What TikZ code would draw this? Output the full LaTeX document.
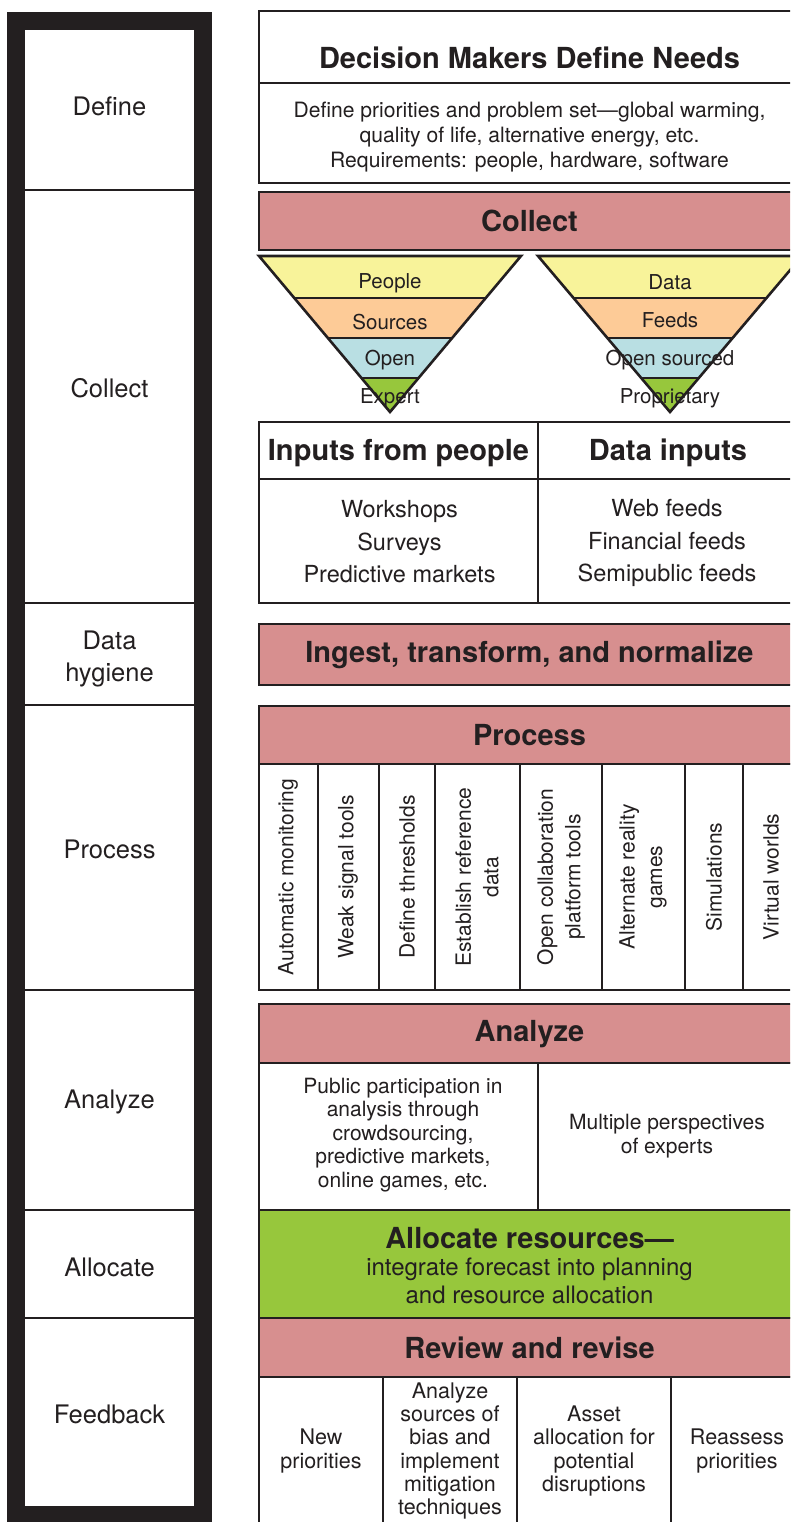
\documentclass[tikz,border=0pt]{standalone}
\usepackage{fontspec}
\setmainfont{TeX Gyre Heros}
\usetikzlibrary{calc}
\definecolor{linec}{RGB}{35,31,32}
\definecolor{pinkc}{RGB}{215,143,143}
\definecolor{greenc}{RGB}{151,199,60}
\definecolor{yellowc}{RGB}{248,243,154}
\definecolor{orangec}{RGB}{253,203,151}
\definecolor{bluec}{RGB}{185,223,227}
\begin{document}
\begin{tikzpicture}[x=1pt,y=-1pt,
  box/.style={draw=linec,line width=2.6pt,inner sep=0pt,outer sep=0pt,minimum width=541pt,text=linec},
  bar/.style={box,fill=pinkc,font=\bfseries\fontsize{29}{34}\selectfont},
  rule/.style={draw=linec,line width=2.6pt},
  thin/.style={draw=linec,line width=2pt},
  side/.style={text=linec,align=center,font=\fontsize{25.5}{32}\selectfont},
  title/.style={text=linec,align=center,font=\bfseries\fontsize{29}{34}\selectfont},
  body/.style={text=linec,align=center,font=\fontsize{23.5}{32.5}\selectfont},
  small/.style={text=linec,align=center,font=\fontsize{21}{23.5}\selectfont},
  funtext/.style={text=linec,font=\fontsize{20.5}{24}\selectfont},
  vert/.style={text=linec,align=center,rotate=90,font=\fontsize{21}{27.5}\selectfont}
]
\useasboundingbox (0,0) rectangle (790,1522);
\clip (0,0) rectangle (790,1522);

% ---------- left column ----------
\node[draw=linec,line width=18pt,minimum width=187pt,minimum height=1494pt,inner sep=0pt,outer sep=0pt] (frame) at (109.5,768) {};
\foreach \yy in {190,603,705,990,1210,1318}{
  \draw[thin] (25,\yy) -- (194,\yy);
}
\node[side] (sdefine) at (109.5,106) {Define};
\node[side] (scollect) at (109.5,388) {Collect};
\node[side] (shyg) at (109.5,659) {Data\\hygiene};
\node[side] (sprocess) at (109.5,849) {Process};
\node[side] (sanalyze) at (109.5,1102) {Analyze};
\node[side] (sallocate) at (109.5,1267) {Allocate};
\node[side] (sfeedback) at (109.5,1414) {Feedback};

% ---------- define ----------
\node[box,fill=white,minimum height=172pt] (defbox) at (529.5,97) {};
\draw[rule] (259,83) -- (800,83);
\node[title] (deftitle) at (529.5,58) {Decision Makers Define Needs};
\node[text=linec,align=center,font=\fontsize{21.1}{25}\selectfont] (defbody) at (529.5,137.5)
  {Define priorities and problem set—global warming,\\quality of life, alternative energy, etc.\\Requirements: people, hardware, software};

% ---------- collect ----------
\node[bar,minimum height=58pt] (collect) at (529.5,221) {Collect};

% funnels
\coordinate (la) at (259,256); \coordinate (lb) at (521,256); \coordinate (lc) at (390,412);
\coordinate (ra) at (538,256); \coordinate (rb) at (802,256); \coordinate (rc) at (670,412);
\foreach \p in {l,r}{
  \fill[yellowc] (\p a) -- (\p b) -- ($(\p b)!0.2692!(\p c)$) -- ($(\p a)!0.2692!(\p c)$) -- cycle;
  \fill[orangec] ($(\p a)!0.2692!(\p c)$) -- ($(\p b)!0.2692!(\p c)$) -- ($(\p b)!0.5256!(\p c)$) -- ($(\p a)!0.5256!(\p c)$) -- cycle;
  \fill[bluec] ($(\p a)!0.5256!(\p c)$) -- ($(\p b)!0.5256!(\p c)$) -- ($(\p b)!0.7821!(\p c)$) -- ($(\p a)!0.7821!(\p c)$) -- cycle;
  \fill[greenc] ($(\p a)!0.7821!(\p c)$) -- ($(\p b)!0.7821!(\p c)$) -- (\p c) -- cycle;
  \draw[rule] ($(\p a)!0.2692!(\p c)$) -- ($(\p b)!0.2692!(\p c)$);
  \draw[rule] ($(\p a)!0.5256!(\p c)$) -- ($(\p b)!0.5256!(\p c)$);
  \draw[rule] ($(\p a)!0.7821!(\p c)$) -- ($(\p b)!0.7821!(\p c)$);
  \draw[rule] (\p a) -- (\p b) -- (\p c) -- cycle;
}
\node[funtext] (fpeople) at (390,283) {People};
\node[funtext] (fsources) at (390,322) {Sources};
\node[funtext] (fopen) at (390,360.5) {Open};
\node[funtext] (fexpert) at (390,398.5) {Expert};
\node[funtext] (fdata) at (670,282) {Data};
\node[funtext] (ffeeds) at (670,320.5) {Feeds};
\node[funtext] (fopens) at (670,360) {Open sourced};
\node[funtext] (fprop) at (670,398.5) {Proprietary};

% inputs table
\node[box,fill=white,minimum height=181pt] (inputs) at (529.5,512.5) {};
\draw[rule] (259,479) -- (800,479);
\draw[rule] (538,422) -- (538,603);
\node[title] (inpeople) at (398.5,453.5) {Inputs from people};
\node[title] (indata) at (668,452.5) {Data inputs};
\node[body] (inpbody) at (399.5,542) {Workshops\\Surveys\\Predictive markets};
\node[body] (indbody) at (667,543) {Web feeds\\Financial feeds\\Semipublic feeds};

% ---------- ingest ----------
\node[bar,minimum height=61pt] (ingest) at (529.5,654.5) {Ingest, transform, and normalize};

% ---------- process ----------
\node[box,fill=white,minimum height=226pt] (proccols) at (529.5,877) {};
\foreach \xx in {318,379,435,520,602,685,743}{
  \draw[rule] (\xx,764) -- (\xx,990);
}
\node[bar,minimum height=58pt] (process) at (529.5,735) {Process};
\node[vert] (p1) at (288,877) {Automatic monitoring};
\node[vert] (p2) at (348,877) {Weak signal tools};
\node[vert] (p3) at (407,877) {Define thresholds};
\node[vert] (p4) at (477,877) {Establish reference\\data};
\node[vert] (p5) at (561,877) {Open collaboration\\platform tools};
\node[vert] (p6) at (643,877) {Alternate reality\\games};
\node[vert] (p7) at (714,877) {Simulations};
\node[vert] (p8) at (771,877) {Virtual worlds};

% ---------- analyze ----------
\node[box,fill=white,minimum height=147pt] (anatab) at (529.5,1136.5) {};
\draw[rule] (538,1063) -- (538,1210);
\node[bar,minimum height=59pt] (analyze) at (529.5,1033.5) {};
\node[title] (analyzet) at (529.5,1034) {Analyze};
\node[small] (analeft) at (403,1135) {Public participation in\\analysis through\\crowdsourcing,\\predictive markets,\\online games, etc.};
\node[small] (anaright) at (667,1136) {Multiple perspectives\\of experts};

% ---------- allocate ----------
\node[box,fill=greenc,minimum height=108pt] (alloc) at (529.5,1264) {};
\node[title] (alloctitle) at (529.5,1238) {Allocate resources—};
\node[text=linec,align=center,font=\fontsize{24}{28.5}\selectfont] (allocbody) at (529.5,1281) {integrate forecast into planning\\and resource allocation};

% ---------- review ----------
\node[box,fill=white,minimum height=158pt] (bottom) at (529.5,1456) {};
\foreach \xx in {383,517,671}{
  \draw[rule] (\xx,1377) -- (\xx,1535);
}
\node[bar,minimum height=59pt] (review) at (529.5,1347.5) {Review and revise};
\node[small,font=\fontsize{21.5}{23.3}\selectfont] (b1) at (321,1451) {New\\priorities};
\node[small,font=\fontsize{21.5}{23.3}\selectfont] (b2) at (450,1451) {Analyze\\sources of\\bias and\\implement\\mitigation\\techniques};
\node[small,font=\fontsize{21.5}{23.3}\selectfont] (b3) at (594,1451) {Asset\\allocation for\\potential\\disruptions};
\node[small,font=\fontsize{21.5}{23.3}\selectfont] (b4) at (737,1451) {Reassess\\priorities};
\end{tikzpicture}
\end{document}
